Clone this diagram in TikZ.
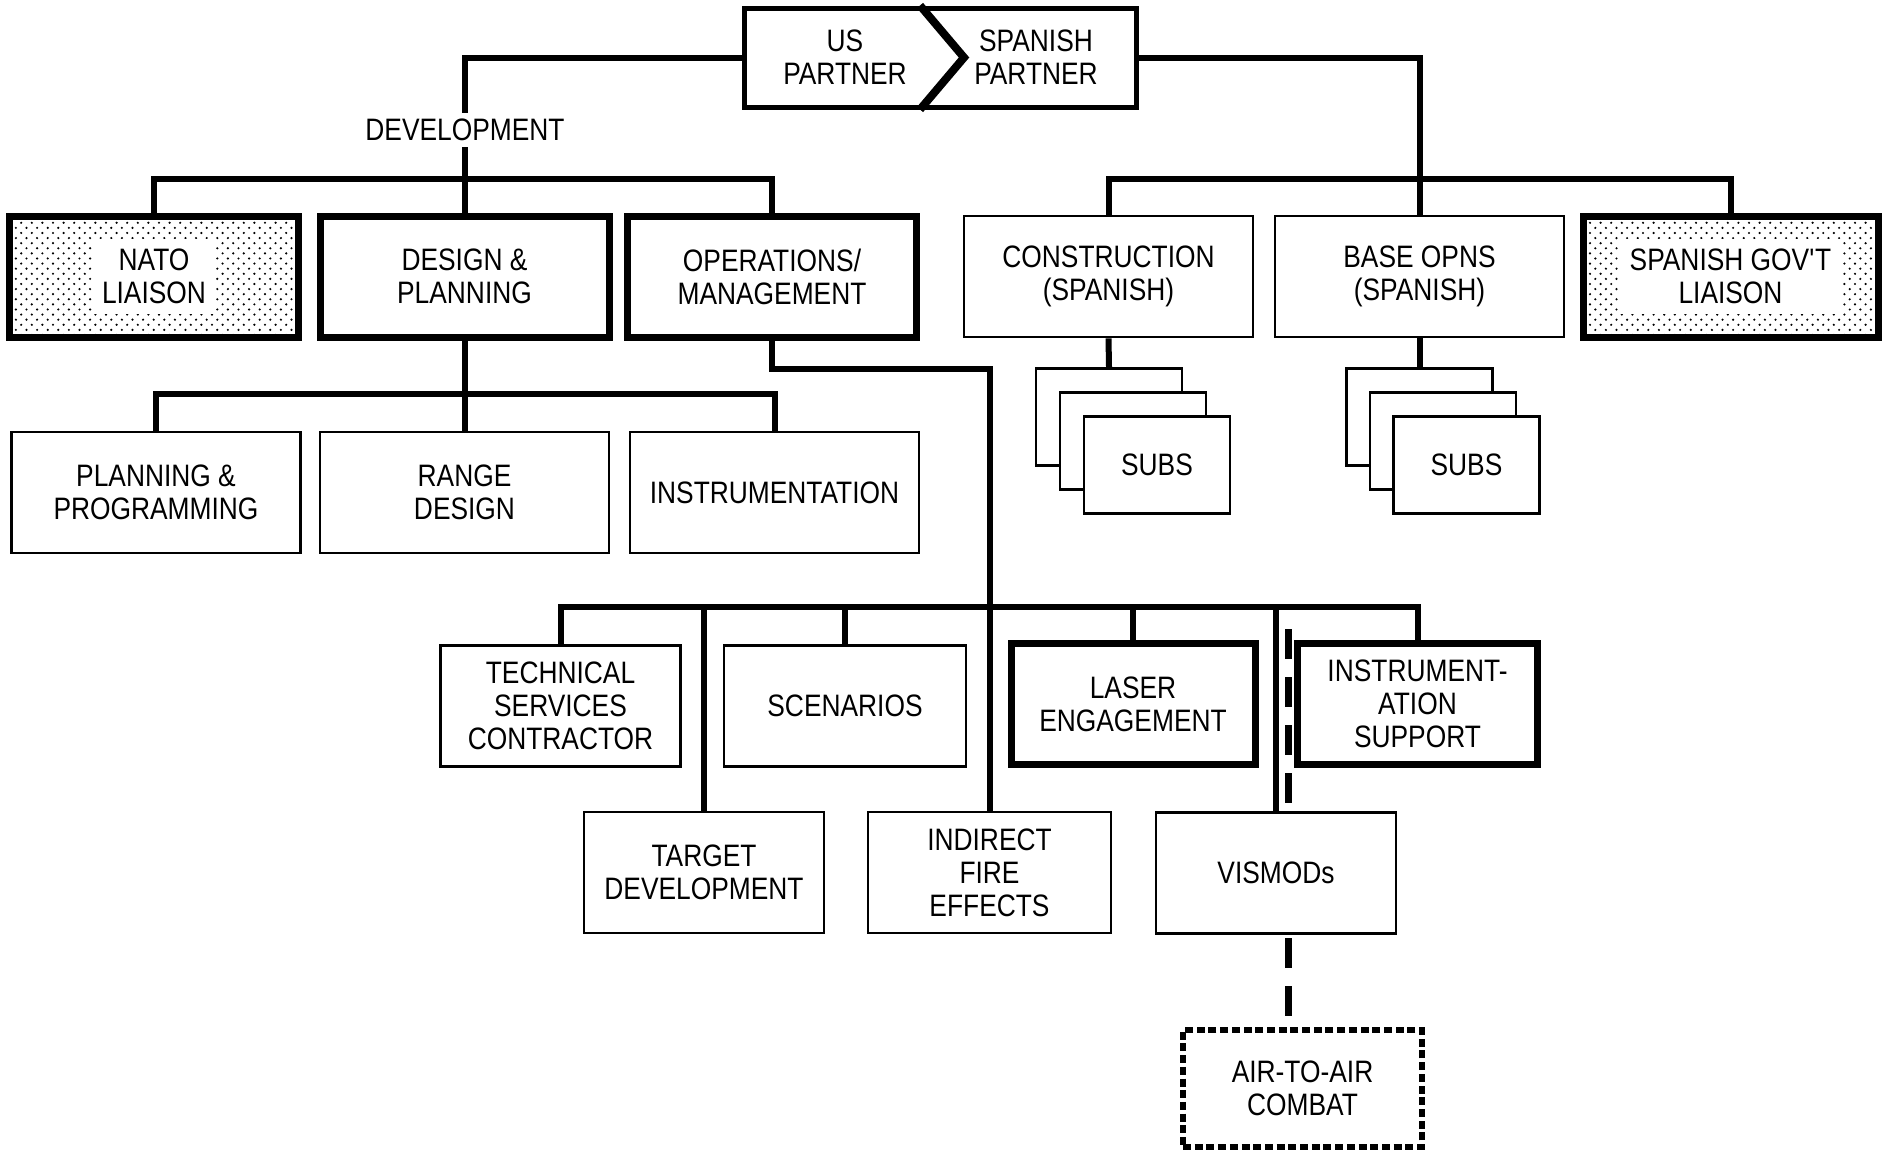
\documentclass[tikz,border=0pt]{standalone}
\usepackage{fontspec}
\setmainfont{Liberation Sans}[FakeStretch=0.85]
\usetikzlibrary{patterns}
\newcommand\ftxt{\fontsize{15.5pt}{16.5pt}\selectfont}
\pgfdeclarepatternformonly{stip}{\pgfpoint{-0.7pt}{-0.7pt}}{\pgfpoint{6pt}{5.8pt}}{\pgfpoint{5.3pt}{5.1pt}}{%
  \pgfpathcircle{\pgfpoint{0pt}{0pt}}{0.6pt}%
  \pgfpathcircle{\pgfpoint{2.65pt}{2.55pt}}{0.6pt}%
  \pgfusepath{fill}}
\tikzset{
  box/.style={draw, line width=1.3pt, fill=white, align=center, font=\ftxt, inner sep=0pt},
  boldbox/.style={box, line width=3.5pt},
  stipbox/.style={draw, line width=3.5pt, pattern=stip, inner sep=0pt},
  dotbox/.style={box, line width=3pt, dash pattern=on 4pt off 1.85pt},
  plain/.style={align=center, font=\ftxt, inner sep=0pt},
  whitetxt/.style={plain, fill=white, inner xsep=5pt, inner ysep=5pt},
  conn/.style={line width=3pt},
  dashln/.style={line width=3.5pt, dash pattern=on 15pt off 9pt},
  lvA/.style={minimum width=144.5pt, minimum height=60.5pt},
  lvB/.style={minimum width=120pt, minimum height=60.5pt},
  subbox/.style={box, minimum width=73pt, minimum height=48.5pt},
}
\begin{document}
\begin{tikzpicture}[x=0.5pt,y=-0.5pt]
\useasboundingbox (0,0) rectangle (1883,1151);
\fill[white] (0,0) rectangle (1883,1151);

% top box
\node[draw, line width=2.5pt, minimum width=196pt, minimum height=49.5pt] (top) at (940,57.5) {};
\draw[line width=4pt, line join=miter] ([xshift=-10pt]top.north) -- ([xshift=12pt]top.center) -- ([xshift=-10pt]top.south);
\node[plain] (us) at (845,57.5) {US\\PARTNER};
\node[plain] (sp) at (1036,57.5) {SPANISH\\PARTNER};

% level 1
\node[stipbox, lvA] (nato) at (154,276.5) {};
\node[whitetxt] (natot) at (nato) {NATO\\LIAISON};
\node[boldbox, lvA] (design) at (464.5,276.5) {DESIGN \&\\PLANNING};
\node[boldbox, lvA] (ops) at (772,276.5) {OPERATIONS/\\MANAGEMENT};
\node[box, lvA] (constr) at (1108.5,276.5) {CONSTRUCTION\\(SPANISH)};
\node[box, lvA] (base) at (1419.5,276.5) {BASE OPNS\\(SPANISH)};
\node[stipbox, lvA, minimum width=147.5pt] (gov) at (1730.5,276.5) {};
\node[whitetxt] (govt) at (gov) {SPANISH GOV\textquotesingle T\\LIAISON};

% level 2
\node[box, lvA] (pp) at (156,492.5) {PLANNING \&\\PROGRAMMING};
\node[box, lvA] (range) at (464.5,492.5) {RANGE\\DESIGN};
\node[box, lvA] (instr) at (774.5,492.5) {INSTRUMENTATION};

% subs stacks
\node[subbox] (cs1) at (1109,417) {};
\node[subbox] (cs2) at (1133,441) {};
\node[subbox] (cs3) at (1157,465) {SUBS};
\node[subbox] (bs1) at (1419.5,417) {};
\node[subbox] (bs2) at (1443,441) {};
\node[subbox] (bs3) at (1466.5,465) {SUBS};

% level 3
\node[box, lvB] (tech) at (560.5,706) {TECHNICAL\\SERVICES\\CONTRACTOR};
\node[box, lvB, minimum width=121pt] (scen) at (845,706) {SCENARIOS};
\node[boldbox, lvB, minimum width=122pt] (laser) at (1133,704) {LASER\\ENGAGEMENT};
\node[boldbox, lvB] (instsup) at (1417.5,703.5) {INSTRUMENT-\\ATION\\SUPPORT};
\node[box, lvB] (target) at (704,872.5) {TARGET\\DEVELOPMENT};
\node[box, lvB, minimum width=121.5pt] (indirect) at (989.5,872.5) {INDIRECT\\FIRE\\EFFECTS};
\node[box, lvB] (vismods) at (1276,873) {VISMODs};
\node[dotbox, minimum width=119.5pt, minimum height=58.5pt] (air) at (1302.5,1088.5) {AIR-TO-AIR\\COMBAT};

% connector coordinates
\coordinate (b1) at (464.5,179);
\coordinate (b2) at (1419.5,179);
\coordinate (b3) at (464.5,394);
\coordinate (k1) at (989.5,369);
\coordinate (b4) at (989.5,607);
\coordinate (d1) at (1288,629);
\coordinate (d2) at (1288,805);
\coordinate (d3) at (1288,938);
\coordinate (d4) at (1288,1018);

% connectors
\draw[conn] (top.west) -| (design.north);
\draw[conn] (nato.north) |- (b1) -| (ops.north);
\draw[conn] (top.east) -| (base.north);
\draw[conn] (constr.north) |- (b2) -| (gov.north);
\draw[conn] (design.south) -- (range.north);
\draw[conn] (pp.north) |- (b3) -| (instr.north);
\draw[conn] (constr.south) -- (cs1.north);
\draw[conn] (base.south) -- (bs1.north);
\draw[conn] (ops.south) |- (k1) -- (indirect.north);
\draw[conn] (tech.north) |- (b4) -| (instsup.north);
\draw[conn] (target.north) -- (target.north |- b4);
\draw[conn] (scen.north) -- (scen.north |- b4);
\draw[conn] (laser.north) -- (laser.north |- b4);
\draw[conn] (vismods.north) -- (vismods.north |- b4);
\draw[dashln] (d1) -- (d2);
\draw[dashln] (d3) -- (d4);

\node[plain, fill=white, inner xsep=1pt, inner ysep=2.8pt] (dev) at (465,130) {DEVELOPMENT};
\end{tikzpicture}
\end{document}
